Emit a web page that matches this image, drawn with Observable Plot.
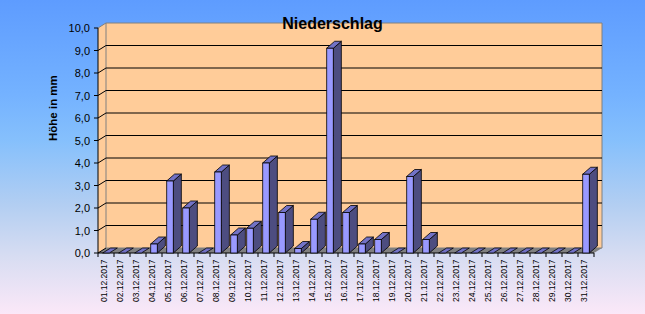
<!DOCTYPE html>
<html><head><meta charset="utf-8">
<script src="https://cdn.jsdelivr.net/npm/d3@7"></script>
<script src="https://cdn.jsdelivr.net/npm/@observablehq/plot@0.6"></script>
<style>
html,body{margin:0;padding:0;width:645px;height:314px;overflow:hidden;}
body{background:linear-gradient(to bottom,#5E9CFF 0%,#74B2FF 30%,#86C0FC 45%,#B2CEF2 65%,#D8DDF2 82%,#FBE8F8 100%);}
#chart svg{display:block;}
</style></head><body><div id="chart"></div>
<script>
const dates = ["01.12.2017","02.12.2017","03.12.2017","04.12.2017","05.12.2017","06.12.2017","07.12.2017","08.12.2017","09.12.2017","10.12.2017","11.12.2017","12.12.2017","13.12.2017","14.12.2017","15.12.2017","16.12.2017","17.12.2017","18.12.2017","19.12.2017","20.12.2017","21.12.2017","22.12.2017","23.12.2017","24.12.2017","25.12.2017","26.12.2017","27.12.2017","28.12.2017","29.12.2017","30.12.2017","31.12.2017"];
const values = [0,0,0,0.4,3.2,2.0,0,3.6,0.8,1.1,4.0,1.8,0.2,1.5,9.1,1.8,0.4,0.6,0,3.4,0.6,0,0,0,0,0,0,0,0,0,3.5];
const yTicks = [0,1,2,3,4,5,6,7,8,9,10];
const yTickLabels = ["0,0","1,0","2,0","3,0","4,0","5,0","6,0","7,0","8,0","9,0","10,0"];
const title = "Niederschlag";
const yLabel = "Höhe in mm";

const data = dates.map((d, i) => ({date: d, value: values[i]}));
const yLabelData = yTicks.map((t, i) => ({v: t, label: yTickLabels[i]}));

const DX = 8, DY = 5, BDY = 7, BAR_W = 6.7;
const WALL = "#FFCC99", EDGE = "#808080";

function poly(g, pts, fill, stroke, sw) {
  g.append("path")
    .attr("d", "M" + pts.map(p => p[0] + "," + p[1]).join("L") + "Z")
    .attr("fill", fill).attr("stroke", stroke).attr("stroke-width", sw || 1)
    .attr("stroke-linejoin", "miter");
}
function line(g, x1, y1, x2, y2, stroke) {
  g.append("line").attr("x1", x1).attr("y1", y1).attr("x2", x2).attr("y2", y2)
    .attr("stroke", stroke).attr("stroke-width", 1);
}
function bw(x) { return x.bandwidth ? x.bandwidth() : x.step(); }

function wallMark(index, scales) {
  const x = scales.x, y = scales.y;
  const w = bw(x);
  const x0 = x(dates[0]), x1 = x(dates[dates.length - 1]) + w;
  const y0 = y(0), yt = y(yTicks[yTicks.length - 1]);
  const g = d3.create("svg:g");
  poly(g, [[x0, yt], [x0 + DX, yt - DY], [x0 + DX, y0 - DY], [x0, y0]], WALL, "none");
  poly(g, [[x0 + DX, yt - DY], [x1 + DX, yt - DY], [x1 + DX, y0 - DY], [x0 + DX, y0 - DY]], WALL, EDGE);
  poly(g, [[x0, y0], [x1, y0], [x1 + DX, y0 - DY], [x0 + DX, y0 - DY]], EDGE, "none");
  yTicks.forEach(t => {
    const yy = y(t);
    if (t > yTicks[0] && t < yTicks[yTicks.length - 1]) line(g, x0 + DX, yy - DY, x1 + DX, yy - DY, "#000");
    line(g, x0, yy, x0 + DX, yy - DY, t === yTicks[yTicks.length - 1] ? EDGE : "#000");
    line(g, x0 - 4, yy, x0, yy, "#000");
  });
  line(g, x0, yt, x0, y0, "#000");
  line(g, x0, y0, x1, y0, "#000");
  dates.forEach(d => { const xx = x(d); line(g, xx, y0, xx, y0 + 4, "#000"); });
  line(g, x1, y0, x1, y0 + 4, "#000");
  return g.node();
}

function bar3dMark(index, scales) {
  const x = scales.x, y = scales.y;
  const w = bw(x);
  const g = d3.create("svg:g");
  data.forEach(d => {
    const xl = x(d.date) + (w - BAR_W) / 2, xr = xl + BAR_W;
    const yb = y(0), ytop = y(d.value);
    const dd = d.value > 0 ? BDY : DY;
    if (d.value > 0) poly(g, [[xr, yb], [xr + DX, yb - dd], [xr + DX, ytop - dd], [xr, ytop]], "#4D4D80", "#000", 0.8);
    poly(g, [[xl, ytop], [xr, ytop], [xr + DX, ytop - dd], [xl + DX, ytop - dd]], "#7272C6", "#000", 0.8);
  });
  return g.node();
}

const chart = Plot.plot({
  width: 645, height: 314,
  marginLeft: 95, marginRight: 49, marginTop: 28, marginBottom: 61,
  x: {domain: dates, padding: 0, axis: null},
  y: {domain: [0, 10], axis: null},
  style: {background: "transparent", fontFamily: "Arial, 'Liberation Sans', sans-serif", color: "black", overflow: "visible"},
  marks: [
    wallMark,
    bar3dMark,
    Plot.barY(data, {x: "date", y: "value", fill: "#9999FF", stroke: "#000", strokeWidth: 0.8,
      insetLeft: 4.73, insetRight: 4.73}),
    Plot.text(yLabelData, {y: "v", text: "label", frameAnchor: "left", textAnchor: "end", dx: -5.5, fontSize: 11, fill: "#000"}),
    Plot.text(dates, {x: d => d, text: d => d, frameAnchor: "bottom", rotate: -90, textAnchor: "end", dy: 6, fontSize: 8.5, fill: "#000"}),
    Plot.text([yLabel], {frameAnchor: "left", rotate: -90, dx: -42, fontSize: 11.5, fontWeight: "bold", fill: "#000"}),
    Plot.text([title], {frameAnchor: "top", dx: -13.5, dy: -11, fontSize: 16, fontWeight: "bold", fill: "#000"})
  ]
});
document.getElementById("chart").appendChild(chart);
</script>
</body></html>
